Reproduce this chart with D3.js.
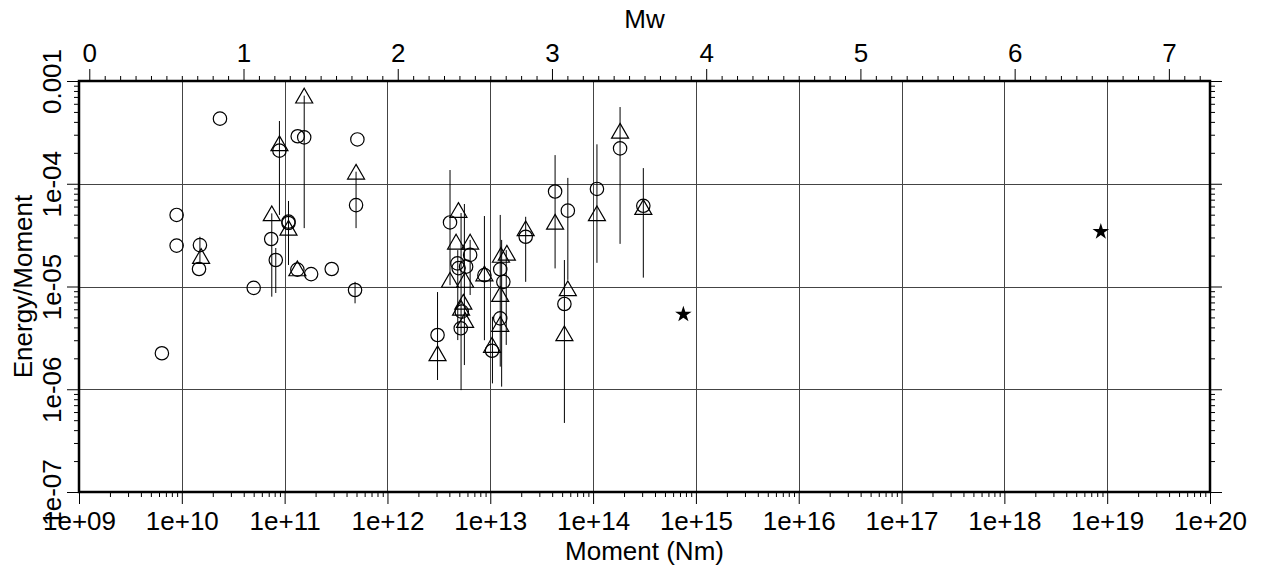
<html>
<head>
<script src="https://cdn.jsdelivr.net/npm/d3@7"></script>
<style>
  body { margin: 0; background: #fff; }
  text { font-family: "Liberation Sans", Arial, sans-serif; fill: #000; }
</style>
</head>
<body>
<script>
// circles: moment (Nm), energy/moment
var circleMoment = [2.35e10, 8.9e10, 1.34e11, 1.55e11, 5.1e11, 4.95e11, 8.9e9, 8.9e9, 1.5e10, 1.47e10,
  6.4e9, 5.0e10, 7.4e10, 8.2e10, 1.09e11, 1.09e11, 1.33e11, 1.81e11, 2.87e11, 4.84e11,
  1.83e14, 4.27e13, 5.68e13, 5.26e13, 1.09e14, 3.08e14, 2.21e13, 4.06e12, 3.07e12, 4.79e12,
  4.92e12, 6.37e12, 5.82e12, 5.28e12, 5.16e12, 8.77e12, 1.25e13, 1.34e13, 1.25e13, 1.04e13];
var circleRatio = [4.3e-4, 2.1e-4, 2.9e-4, 2.83e-4, 2.7e-4, 6.2e-5, 4.97e-5, 2.5e-5, 2.53e-5, 1.48e-5,
  2.24e-6, 9.7e-6, 2.9e-5, 1.81e-5, 4.28e-5, 4.15e-5, 1.46e-5, 1.32e-5, 1.48e-5, 9.25e-6,
  2.21e-4, 8.4e-5, 5.47e-5, 6.76e-6, 8.9e-5, 6.1e-5, 3.05e-5, 4.2e-5, 3.37e-6, 1.68e-5,
  1.51e-5, 2.03e-5, 1.56e-5, 5.69e-6, 3.92e-6, 1.29e-5, 1.47e-5, 1.11e-5, 4.9e-6, 2.37e-6];

// triangles
var triangleMoment = [8.9e10, 1.55e11, 4.95e11, 1.54e10, 7.5e10, 1.09e11, 1.33e11, 1.83e14, 4.27e13, 5.68e13,
  5.26e13, 1.09e14, 3.08e14, 2.21e13, 4.9e12, 3.07e12, 4.65e12, 6.37e12, 4.06e12, 5.69e12,
  5.47e12, 5.2e12, 5.69e12, 8.77e12, 1.27e13, 1.45e13, 1.25e13, 1.25e13, 1.04e13];
var triangleRatio = [2.48e-4, 7.2e-4, 1.31e-4, 1.98e-5, 5.15e-5, 3.73e-5, 1.5e-5, 3.28e-4, 4.27e-5, 9.6e-6,
  3.5e-6, 5.15e-5, 5.94e-5, 3.68e-5, 5.56e-5, 2.24e-6, 2.73e-5, 2.73e-5, 1.16e-5, 1.16e-5,
  7.1e-6, 6.2e-6, 4.72e-6, 1.34e-5, 2.03e-5, 2.13e-5, 8.45e-6, 4.32e-6, 2.7e-6];

// error bars
var barMoment = [8.9e10, 1.55e11, 4.95e11, 1.5e10, 7.5e10, 8.2e10, 1.09e11, 4.84e11, 1.83e14, 4.27e13,
  5.68e13, 5.26e13, 1.09e14, 3.08e14, 2.21e13, 4.06e12, 3.07e12, 5.2e12, 5.6e12, 6.37e12,
  4.83e12, 8.77e12, 1.25e13, 1.29e13, 1.43e13, 1.05e13];
var barLow = [4.97e-5, 3.7e-5, 3.7e-5, 1.69e-5, 7.96e-6, 8.65e-6, 1.62e-5, 6.86e-6, 2.6e-5, 1.5e-5,
  1.16e-5, 4.7e-7, 1.7e-5, 1.22e-5, 1.11e-5, 1.03e-5, 1.23e-6, 9.8e-7, 1.72e-6, 8.26e-6,
  3.01e-6, 3.0e-6, 1.66e-6, 1.06e-6, 2.7e-6, 1.14e-6];
var barHigh = [4.08e-4, 7.2e-4, 1.31e-4, 3.05e-5, 5.15e-5, 2.37e-5, 6.8e-5, 1.11e-5, 5.58e-4, 1.9e-4,
  1.14e-4, 1.81e-5, 2.42e-4, 1.42e-4, 4.77e-5, 1.36e-4, 8.83e-6, 5.19e-5, 6.35e-5, 2.84e-5,
  2.26e-5, 4.85e-5, 4.97e-5, 2.84e-5, 2.26e-5, 5.08e-6];

// stars
var starMoment = [7.55e14, 8.67e18];
var starRatio = [5.36e-6, 3.41e-5];

var xTicks = [1e9, 1e10, 1e11, 1e12, 1e13, 1e14, 1e15, 1e16, 1e17, 1e18, 1e19, 1e20];
var xTickLabels = ["1e+09", "1e+10", "1e+11", "1e+12", "1e+13", "1e+14", "1e+15", "1e+16", "1e+17", "1e+18", "1e+19", "1e+20"];
var yTicks = [1e-3, 1e-4, 1e-5, 1e-6, 1e-7];
var yTickLabels = ["0.001", "1e-04", "1e-05", "1e-06", "1e-07"];
var mwTicks = [0, 1, 2, 3, 4, 5, 6, 7];

var W = 1263, H = 568;
var pLeft = 79, pRight = 1210, pTop = 81, pBottom = 492;
var fs = 26;

var svg = d3.select("body").append("svg").attr("width", W).attr("height", H);

var x = d3.scaleLog().domain([1e9, 1e20]).range([pLeft, pRight]);
var y = d3.scaleLog().domain([1e-7, 1e-3]).range([pBottom, pTop]);
var toMw = function(m) { return (Math.log10(m) - 9.1) / 1.5; };
var xMw = d3.scaleLinear().domain([toMw(1e9), toMw(1e20)]).range([pLeft, pRight]);

// minor tick values
var xMinor = [];
xTicks.slice(0, -1).forEach(function(d) { for (var k = 2; k <= 9; k++) xMinor.push(d * k); });
var yMinor = [];
yTicks.slice(1).forEach(function(d) { for (var k = 2; k <= 9; k++) yMinor.push(d * k); });
var mwMinor = d3.range(0, 73).map(function(i) { return i / 10; }).filter(function(d) { return Math.abs(d - Math.round(d)) > 1e-6; });

// grid
var grid = svg.append("g").attr("stroke", "#444").attr("stroke-width", 1);
grid.selectAll("line.v").data(xTicks.slice(1, -1)).enter().append("line")
  .attr("x1", function(d) { return Math.round(x(d)) + 0.5; })
  .attr("x2", function(d) { return Math.round(x(d)) + 0.5; })
  .attr("y1", pTop).attr("y2", pBottom);
grid.selectAll("line.h").data(yTicks.slice(1, -1)).enter().append("line")
  .attr("y1", function(d) { return Math.round(y(d)) + 0.5; })
  .attr("y2", function(d) { return Math.round(y(d)) + 0.5; })
  .attr("x1", pLeft).attr("x2", pRight);

function styleAxis(g) {
  g.select(".domain").remove();
  g.selectAll("line").attr("stroke", "#000").attr("stroke-width", 1);
  g.selectAll("text").attr("font-size", fs).attr("font-family", "Liberation Sans, Arial, sans-serif");
}

// bottom axis
svg.append("g").attr("transform", "translate(0," + pBottom + ")")
  .call(d3.axisBottom(x).tickValues(xMinor).tickSize(5).tickFormat(""))
  .call(styleAxis);
svg.append("g").attr("transform", "translate(0," + pBottom + ")")
  .call(d3.axisBottom(x).tickValues(xTicks).tickSize(12).tickPadding(8)
    .tickFormat(function(d, i) { return xTickLabels[i]; }))
  .call(styleAxis);

// top axis (Mw)
svg.append("g").attr("transform", "translate(0," + pTop + ")")
  .call(d3.axisTop(xMw).tickValues(mwMinor).tickSize(5).tickFormat(""))
  .call(styleAxis);
svg.append("g").attr("transform", "translate(0," + pTop + ")")
  .call(d3.axisTop(xMw).tickValues(mwTicks).tickSize(12).tickPadding(7).tickFormat(d3.format("d")))
  .call(styleAxis);

// left axis
svg.append("g").attr("transform", "translate(" + pLeft + ",0)")
  .call(d3.axisLeft(y).tickValues(yMinor).tickSize(5).tickFormat(""))
  .call(styleAxis);
var yl = svg.append("g").attr("transform", "translate(" + pLeft + ",0)")
  .call(d3.axisLeft(y).tickValues(yTicks).tickSize(12)
    .tickFormat(function(d, i) { return yTickLabels[i]; }))
  .call(styleAxis);
yl.selectAll("text").attr("x", 0).attr("dy", null).attr("y", -18)
  .attr("text-anchor", "middle").attr("transform", "rotate(-90)");

// right axis
svg.append("g").attr("transform", "translate(" + pRight + ",0)")
  .call(d3.axisRight(y).tickValues(yMinor).tickSize(5).tickFormat(""))
  .call(styleAxis);
svg.append("g").attr("transform", "translate(" + pRight + ",0)")
  .call(d3.axisRight(y).tickValues(yTicks).tickSize(12).tickFormat(""))
  .call(styleAxis);

// frame
svg.append("rect").attr("x", pLeft).attr("y", pTop)
  .attr("width", pRight - pLeft).attr("height", pBottom - pTop)
  .attr("fill", "none").attr("stroke", "#000").attr("stroke-width", 2.5);

// titles
svg.append("text").attr("x", (pLeft + pRight) / 2).attr("y", 28)
  .attr("text-anchor", "middle").attr("font-size", fs).text("Mw");
svg.append("text").attr("x", (pLeft + pRight) / 2).attr("y", 560)
  .attr("text-anchor", "middle").attr("font-size", fs).text("Moment (Nm)");
svg.append("text").attr("transform", "translate(32," + (pTop + pBottom) / 2 + ") rotate(-90)")
  .attr("text-anchor", "middle").attr("font-size", fs).text("Energy/Moment");

var plot = svg.append("g");

// error bars
plot.selectAll("line.err").data(barMoment).enter().append("line")
  .attr("x1", function(d) { return x(d); }).attr("x2", function(d) { return x(d); })
  .attr("y1", function(d, i) { return y(barHigh[i]); })
  .attr("y2", function(d, i) { return y(barLow[i]); })
  .attr("stroke", "#000").attr("stroke-width", 1);

// circles
plot.selectAll("circle.c").data(circleMoment).enter().append("circle")
  .attr("cx", function(d) { return x(d); })
  .attr("cy", function(d, i) { return y(circleRatio[i]); })
  .attr("r", 6.7).attr("fill", "none").attr("stroke", "#000").attr("stroke-width", 1.2);

// triangles
var ts = 17, th = ts * 0.866;
var triPath = "M0," + (-th / 2) + "L" + (ts / 2) + "," + (th / 2) + "L" + (-ts / 2) + "," + (th / 2) + "Z";
plot.selectAll("path.t").data(triangleMoment).enter().append("path")
  .attr("d", triPath)
  .attr("transform", function(d, i) { return "translate(" + x(d) + "," + y(triangleRatio[i]) + ")"; })
  .attr("fill", "none").attr("stroke", "#000").attr("stroke-width", 1.2);

// stars
plot.selectAll("path.s").data(starMoment).enter().append("path")
  .attr("d", d3.symbol().type(d3.symbolStar).size(85))
  .attr("transform", function(d, i) { return "translate(" + x(d) + "," + y(starRatio[i]) + ")"; })
  .attr("fill", "#000");
</script>
</body>
</html>
